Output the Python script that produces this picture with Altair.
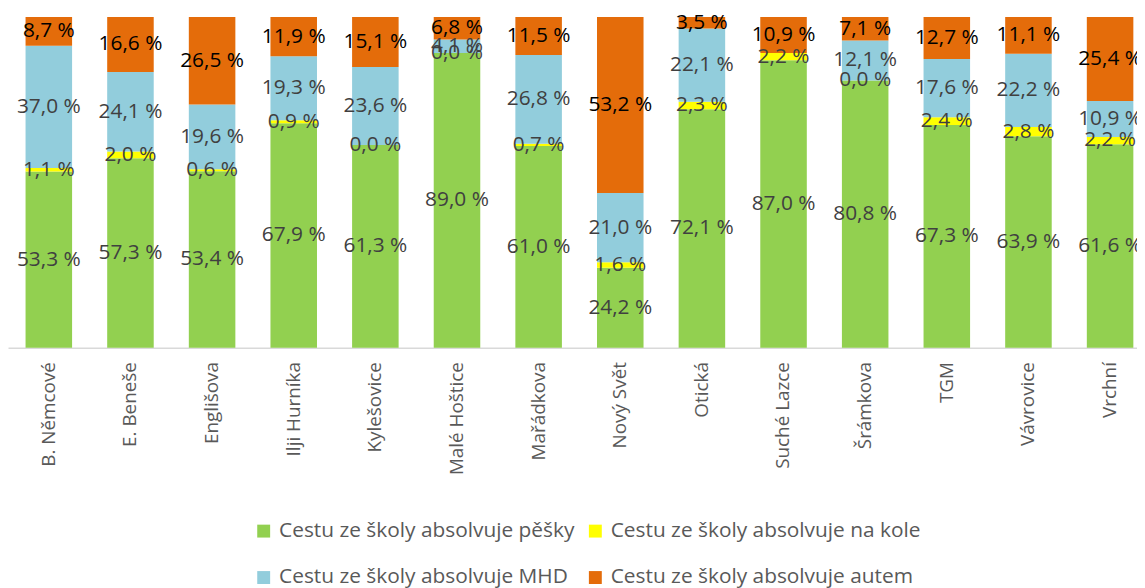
import altair as alt
import pandas as pd

schools = ["B. Němcové", "E. Beneše", "Englišova", "Ilji Hurníka", "Kylešovice",
           "Malé Hoštice", "Mařádkova", "Nový Svět", "Otická", "Suché Lazce",
           "Šrámkova", "TGM", "Vávrovice", "Vrchní"]
modes = ["Cestu ze školy absolvuje pěšky", "Cestu ze školy absolvuje na kole",
         "Cestu ze školy absolvuje MHD", "Cestu ze školy absolvuje autem"]
colors = ["#92D050", "#FFFF00", "#92CDDC", "#E46C0A"]

pesky = [53.3, 57.3, 53.4, 67.9, 61.3, 89.0, 61.0, 24.2, 72.1, 87.0, 80.8, 67.3, 63.9, 61.6]
na_kole = [1.1, 2.0, 0.6, 0.9, 0.0, 0.0, 0.7, 1.6, 2.3, 2.2, 0.0, 2.4, 2.8, 2.2]
mhd = [37.0, 24.1, 19.6, 19.3, 23.6, 4.1, 26.8, 21.0, 22.1, None, 12.1, 17.6, 22.2, 10.9]
autem = [8.7, 16.6, 26.5, 11.9, 15.1, 6.8, 11.5, 53.2, 3.5, 10.9, 7.1, 12.7, 11.1, 25.4]

rows = []
for series_i, (mode, vals) in enumerate(zip(modes, [pesky, na_kole, mhd, autem])):
    for s, v in zip(schools, vals):
        if v is None:
            continue
        rows.append({"school": s, "mode": mode, "value": v, "ord": series_i})
df = pd.DataFrame(rows)

base = alt.Chart(df).transform_stack(
    stack="value", groupby=["school"], sort=[alt.SortField("ord", order="ascending")],
    as_=["y0", "y1"], offset="normalize"
).transform_calculate(
    mid="(datum.y0 + datum.y1) / 2",
    lbl="replace(format(datum.value, '.1f'), '.', ',') + ' %'"
)

xenc = alt.X("school:N", sort=schools, title=None,
             scale=alt.Scale(range=[0, 1151], paddingInner=0.43, paddingOuter=0.215),
             axis=alt.Axis(labelAngle=-90, labelFont="Open Sans", labelFontSize=19,
                           labelColor="#595959", labelPadding=14, ticks=False,
                           domainColor="#D9D9D9", domainWidth=1.5, labelLimit=300))

bars = base.mark_bar().encode(
    x=xenc,
    y=alt.Y("y0:Q", scale=alt.Scale(domain=[0, 1]), axis=None),
    y2="y1:Q",
    color=alt.Color("mode:N", scale=alt.Scale(domain=modes, range=colors),
                    legend=alt.Legend(title=None, orient="none", legendX=247, legendY=507,
                                      direction="horizontal",
                                      columns=2, columnPadding=10, rowPadding=25,
                                      symbolType="square", symbolSize=169,
                                      symbolStrokeWidth=0, labelFont="Open Sans",
                                      labelFontSize=21, labelColor="#595959",
                                      labelLimit=500, labelOffset=5)),
)

texts = base.mark_text(font="Open Sans", fontSize=21).encode(
    x=alt.X("school:N", sort=schools),
    y=alt.Y("mid:Q"),
    text="lbl:N",
    color=alt.condition(alt.datum.ord == 3, alt.value("#000000"), alt.value("#404040")),
)

chart = alt.layer(bars, texts).properties(
    width=1137, height=333,
    padding={"left": 0, "top": 7, "right": 0, "bottom": 242},
    autosize=alt.AutoSizeParams(type="none"),
).configure_view(stroke=None)

chart.save("out.html", embed_options={"renderer": "svg", "actions": False})
